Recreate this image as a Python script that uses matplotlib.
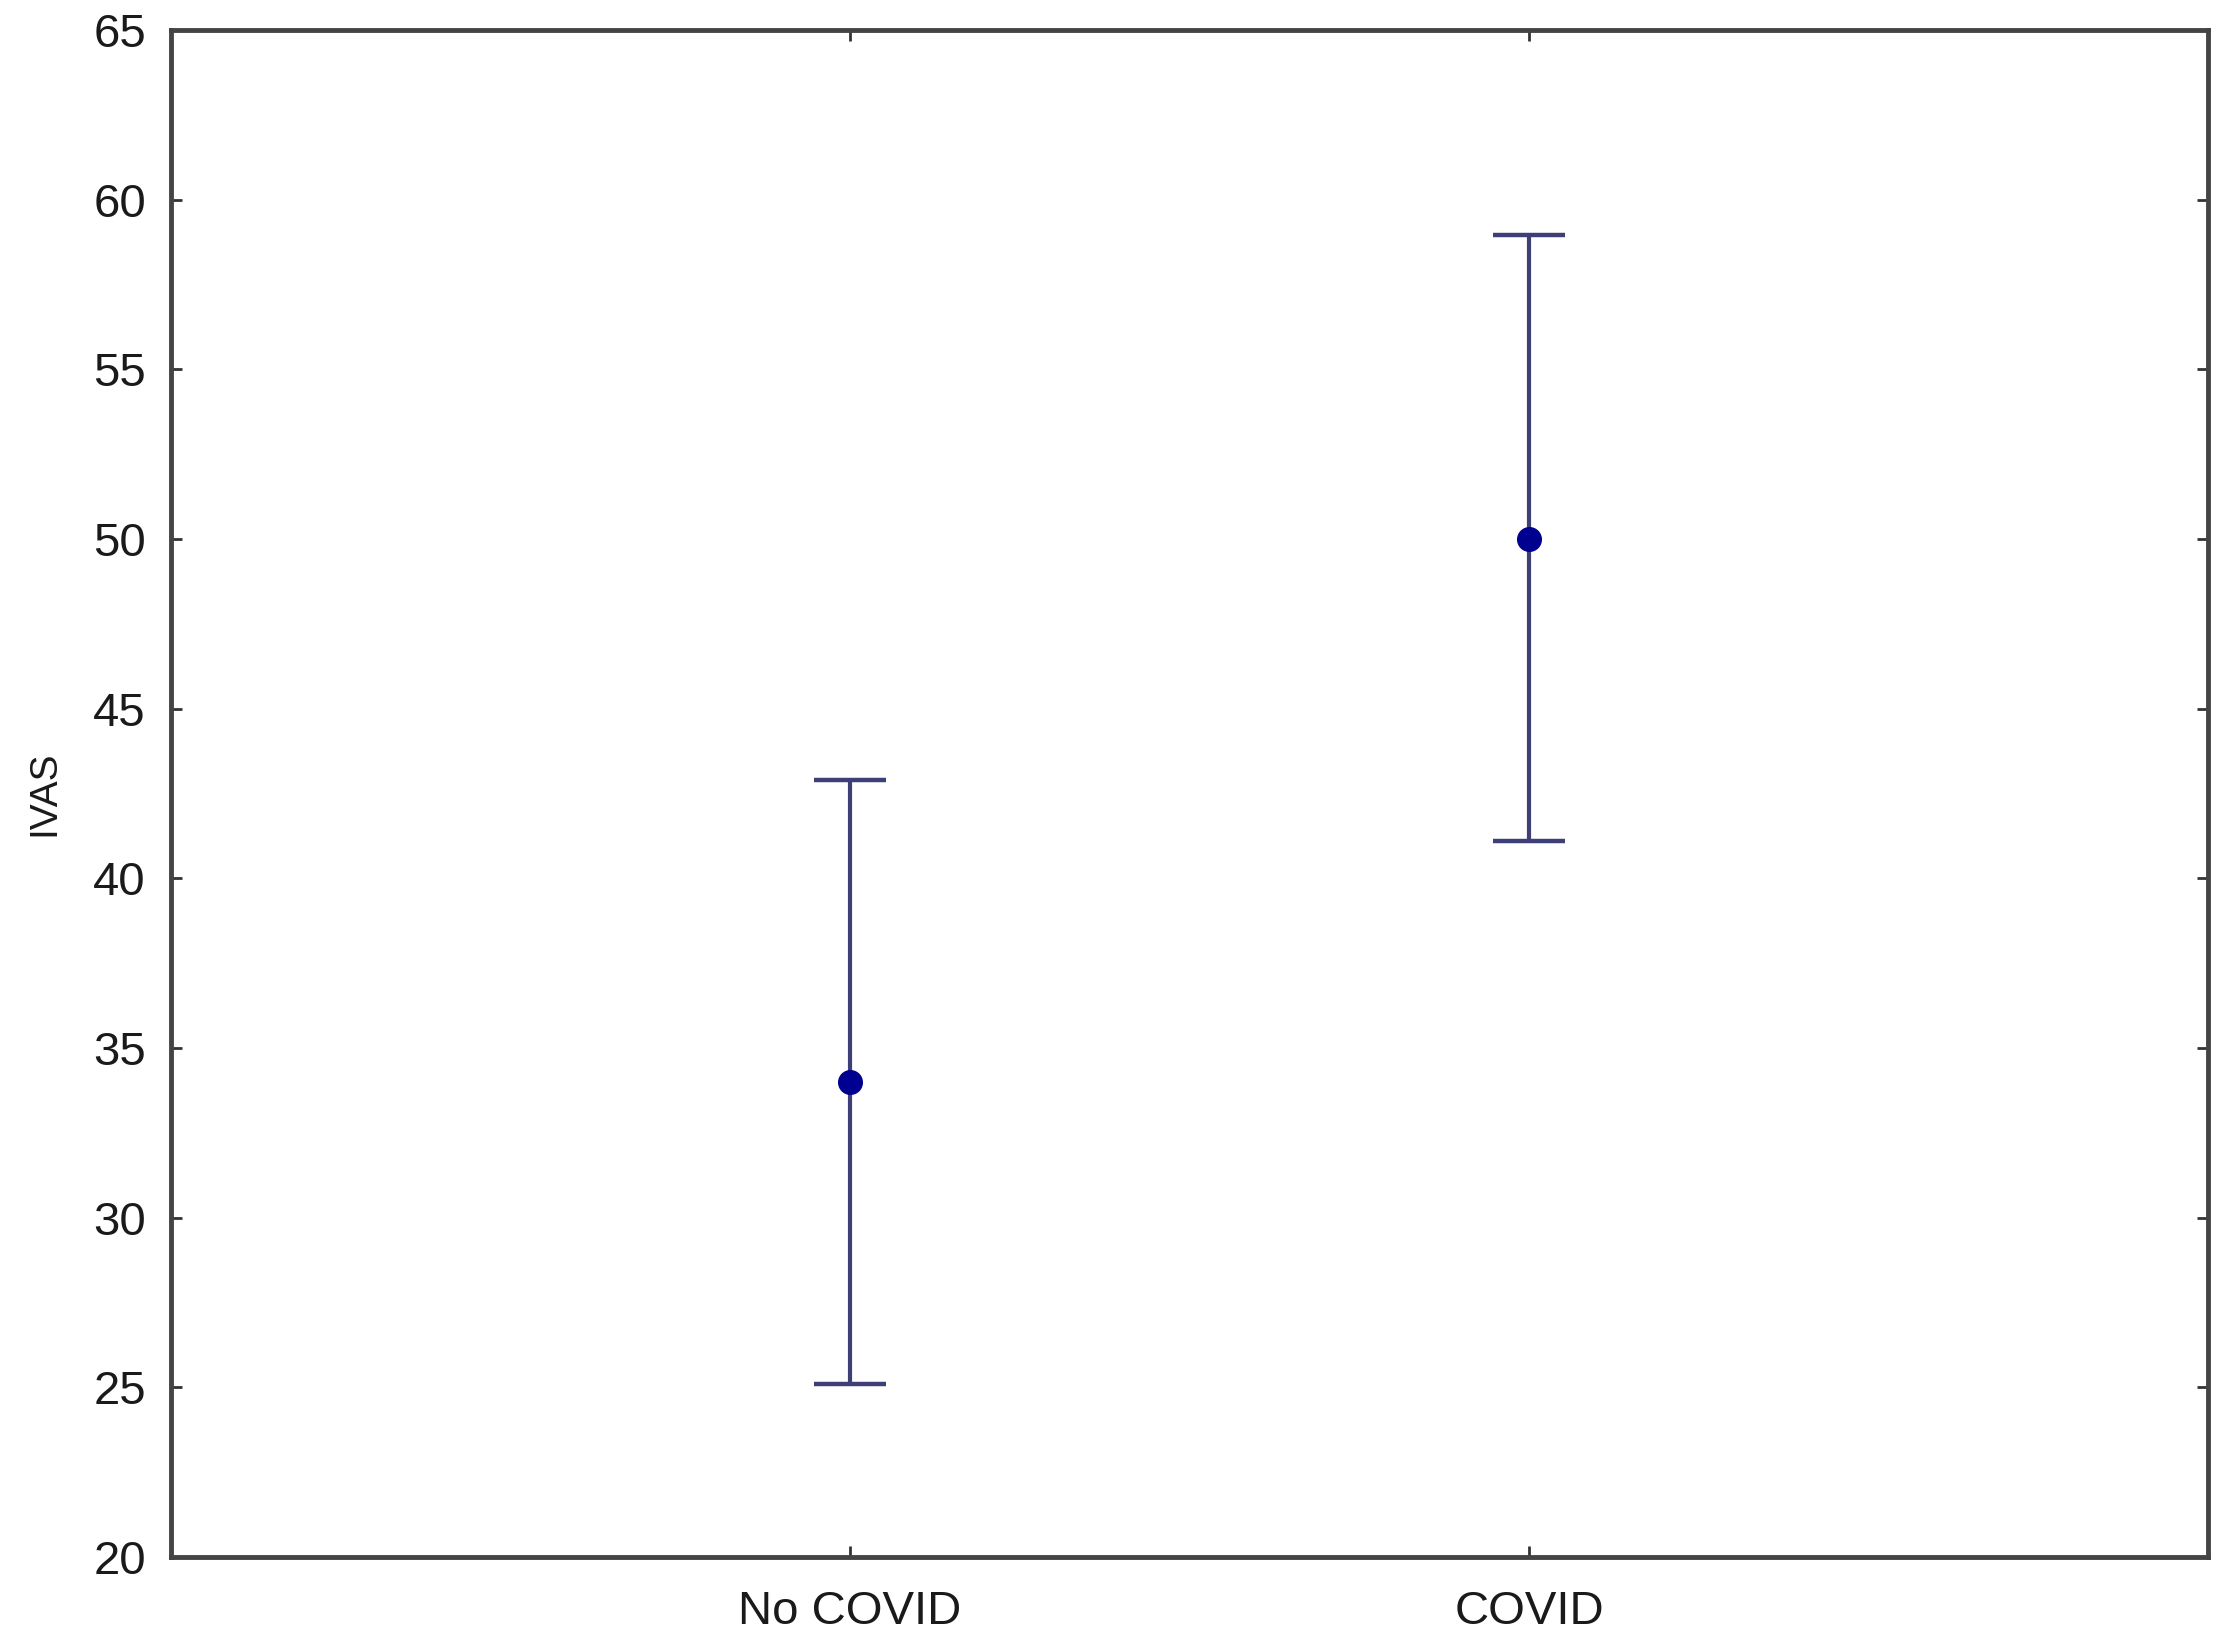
import numpy as np
import matplotlib
matplotlib.use("Agg")
from matplotlib import pyplot as plt

groups = ['No COVID', 'COVID']
means = [34.0, 50.0]
lower = [25.1, 41.1]
upper = [42.9, 58.95]

plt.rcParams['font.family'] = ['Liberation Sans', 'DejaVu Sans']

fig = plt.figure(figsize=(22.28, 16.43), dpi=100)
ax = fig.add_axes([0.0767, 0.0523, 0.9145, 0.9294])

x = np.arange(len(groups))
m = np.array(means)
err = [m - np.array(lower), np.array(upper) - m]

ax.errorbar(x, m, yerr=err, fmt='none', ecolor='#3f3f78', elinewidth=3,
            capsize=26, capthick=3.2)
ax.plot(x, m, 'o', color='#000090', markersize=17, zorder=3)

ax.set_xlim(-1, 2)
ax.set_ylim(20, 65)
ax.set_yticks(np.arange(20, 66, 5))
ax.set_xticks(x)
ax.set_xticklabels(groups)
ax.set_ylabel('IVAS', fontsize=28, color='#1a1a1a', labelpad=22)

ax.tick_params(direction='in', length=8, width=2, color='#333333',
               top=True, right=True, labelsize=34, labelcolor='#1a1a1a')
ax.tick_params(axis='y', pad=18)
ax.tick_params(axis='x', pad=24)
for s in ax.spines.values():
    s.set_linewidth(3.5)
    s.set_color('#444444')

fig.savefig('out.png', dpi=100, facecolor='white')
